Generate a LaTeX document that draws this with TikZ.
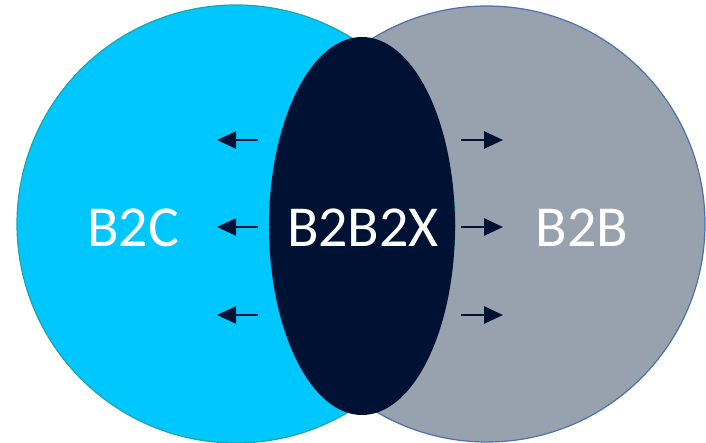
\documentclass[tikz,border=0pt]{standalone}
\usepackage{fontspec}
\setmainfont{Carlito}
\usetikzlibrary{arrows.meta}
\definecolor{cyanfill}{HTML}{00C8FF}
\definecolor{cyanline}{HTML}{1AA6A8}
\definecolor{grayfill}{HTML}{98A2AE}
\definecolor{grayline}{HTML}{4A72AE}
\definecolor{navy}{HTML}{001233}
\tikzset{
  lbl/.style={text=white, font=\fontsize{58}{58}\selectfont, anchor=base, inner sep=0pt},
  arr/.style={draw=navy, line width=2.6pt, -{Triangle[length=19pt,width=17pt]}}
}
\begin{document}
\begin{tikzpicture}[x=1pt,y=-1pt]
\useasboundingbox (0,0) rectangle (706,443);
\fill[grayfill, draw=grayline, line width=1.2pt] (487,224) circle[radius=218];
\fill[cyanfill, draw=cyanline, line width=1.2pt] (236,224) circle[radius=219];
\fill[navy] (362,226) ellipse[x radius=93, y radius=189];
\node[lbl] (b2c) at (133,247) {B2C};
\node[lbl] (b2b2x) at (363,247) {B2B2X};
\node[lbl] (b2b) at (582,247) {B2B};
\foreach \y/\n in {140/a,227/b,315/c}{
  \coordinate (ls\n) at (258,\y);
  \coordinate (le\n) at (217,\y);
  \coordinate (rs\n) at (461,\y);
  \coordinate (re\n) at (503,\y);
  \draw[arr] (ls\n) -- (le\n);
  \draw[arr] (rs\n) -- (re\n);
}
\end{tikzpicture}
\end{document}
